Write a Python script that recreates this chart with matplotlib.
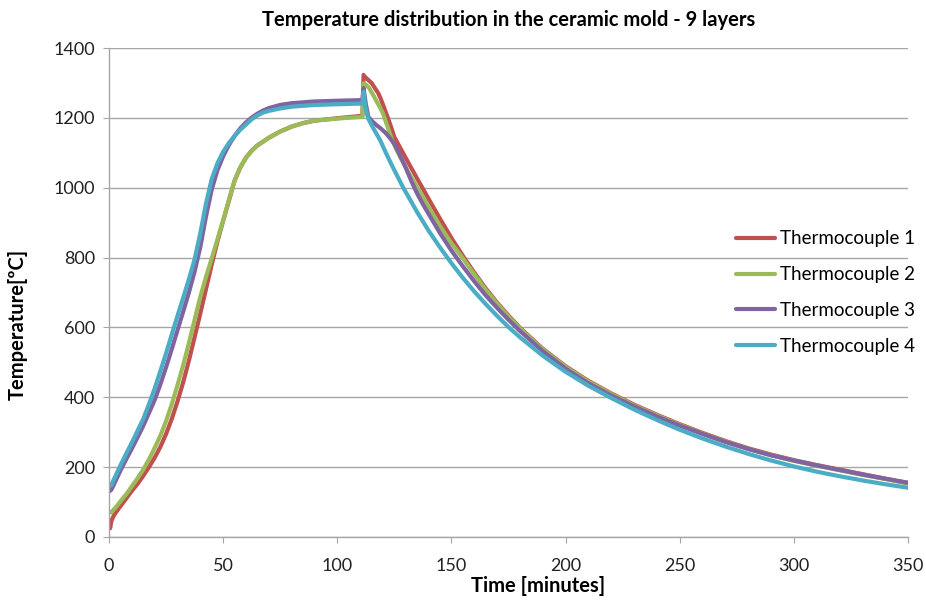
import matplotlib
matplotlib.use("Agg")
import matplotlib.pyplot as plt

# Time [minutes] and temperatures [ºC]
t1 = [0, 0.5, 1, 2, 3, 5, 7.5, 10, 12.5, 15, 17.5, 20, 22.5, 25, 27.5, 30, 32.5, 35, 37.5, 40, 42.5,
      45, 47.5, 50, 52.5, 55, 57.5, 60, 62.5, 65, 67.5, 70, 75, 80, 85, 90, 100, 111,
      111.5, 112, 113, 114, 115, 116, 117, 118, 119, 120, 121, 122, 123.5, 125, 130, 135, 140, 145,
      150, 155, 160, 165, 170, 175, 180, 190, 200, 210, 220, 230, 240, 250, 260, 270, 280, 290, 300,
      310, 320, 330, 340, 350]
tc1 = [50, 25, 45, 60, 70, 88, 110, 132, 152, 175, 200, 227, 258, 295, 338, 388, 443, 505, 572, 640,
       710, 780, 846, 905, 962, 1020, 1058, 1086, 1106, 1121, 1132, 1143, 1161, 1175, 1185, 1192, 1199,
       1206, 1323, 1318, 1312, 1306, 1300, 1290, 1280, 1270, 1255, 1238, 1220, 1203, 1175, 1145, 1085,
       1026, 968, 911, 856, 805, 757, 712, 671, 634, 599, 539, 489, 447, 411, 379, 350, 323, 298, 275,
       254, 236, 220, 206, 193, 180, 167, 155]

t2 = [0, 1, 2, 3, 5, 7.5, 10, 12.5, 15, 17.5, 20, 22.5, 25, 27.5, 30, 32.5, 35, 37.5, 40, 42.5, 45,
      47.5, 50, 52.5, 55, 57.5, 60, 62.5, 65, 67.5, 70, 75, 80, 85, 90, 100, 111,
      111.5, 112.5, 114, 115.5, 117, 118.5, 120, 122, 124, 126, 128, 130, 132.5, 135, 137.5, 140,
      145, 150, 155, 160, 165, 170, 175, 180, 190, 200, 210, 220, 230, 240, 250, 260, 270, 280, 290,
      300, 310, 320, 330, 340, 350]
tc2 = [72, 70, 78, 85, 102, 122, 145, 168, 193, 222, 255, 290, 332, 380, 435, 492, 555, 622, 688, 745,
       798, 852, 907, 965, 1020, 1058, 1086, 1106, 1121, 1132, 1143, 1161, 1175, 1185, 1192, 1198, 1203,
       1299, 1295, 1285, 1268, 1250, 1232, 1213, 1175, 1137, 1108, 1082, 1058, 1029, 1001, 973, 945,
       890, 841, 798, 752, 708, 668, 631, 597, 537, 487, 445, 409, 377, 348, 321, 296, 273, 252, 234,
       218, 204, 191, 178, 166, 153]

t3 = [0, 1, 2, 5, 7.5, 10, 12.5, 15, 17.5, 20, 22.5, 25, 27.5, 30, 32.5, 35, 37.5, 40, 42.5, 45,
      47.5, 50, 52.5, 55, 57.5, 60, 62.5, 65, 67.5, 70, 75, 80, 90, 100, 111,
      111.5, 112.5, 113.6, 115, 117, 119, 121, 123, 125, 127.5, 130, 132.5, 135, 137.5, 140, 145, 150,
      155, 160, 165, 170, 175, 180, 190, 200, 210, 220, 230, 240, 250, 260, 270, 280, 290, 300,
      310, 320, 330, 340, 350]
tc3 = [130, 135, 148, 190, 222, 253, 285, 318, 355, 392, 437, 486, 538, 592, 645, 700, 760, 830, 918,
       995, 1050, 1090, 1122, 1148, 1170, 1187, 1201, 1212, 1221, 1228, 1237, 1242, 1247, 1249, 1251,
       1285, 1240, 1203, 1192, 1180, 1170, 1158, 1143, 1125, 1093, 1057, 1018, 983, 953, 925, 870, 820,
       775, 732, 692, 656, 622, 590, 532, 482, 440, 405, 374, 345, 319, 295, 272, 252, 234, 219,
       205, 192, 179, 167, 155]

t4 = [0, 1, 2, 5, 7.5, 10, 12.5, 15, 17.5, 20, 22.5, 25, 27.5, 30, 32.5, 35, 37.5, 40, 42.5, 45,
      47.5, 50, 52.5, 55, 57.5, 60, 62.5, 65, 67.5, 70, 75, 80, 90, 100, 111,
      111.5, 112.3, 113.5, 115.8, 118.7, 122, 125, 128.9, 135, 140, 145, 150, 155, 160, 165, 170,
      175, 180, 190, 200, 210, 220, 230, 240, 250, 260, 270, 280, 290, 300, 310, 320, 330, 340, 350]
tc4 = [150, 148, 163, 205, 238, 270, 304, 338, 380, 425, 475, 526, 580, 633, 685, 738, 795, 870, 955,
       1025, 1070, 1103, 1128, 1148, 1166, 1181, 1196, 1207, 1215, 1220, 1227, 1232, 1237, 1239, 1241,
       1275, 1230, 1199, 1170, 1137, 1090, 1050, 1000, 930, 877, 829, 784, 742, 703, 667, 633,
       601, 572, 519, 473, 433, 398, 365, 335, 307, 282, 259, 238, 219, 202, 187, 174, 162, 151, 141]

series = [("Thermocouple 1", t1, tc1, "#C0504D"),
          ("Thermocouple 2", t2, tc2, "#9BBB59"),
          ("Thermocouple 3", t3, tc3, "#8064A2"),
          ("Thermocouple 4", t4, tc4, "#4BACC6")]

x_ticks = [0, 50, 100, 150, 200, 250, 300, 350]
y_ticks = [0, 200, 400, 600, 800, 1000, 1200, 1400]

plt.rcParams['font.family'] = ['Lato', 'DejaVu Sans']

fig = plt.figure(figsize=(9.26, 6.01), dpi=100)
ax = fig.add_axes([0.1177, 0.1065, 0.8629, 0.8136])

for name, t, v, c in series:
    ax.plot(t, v, color=c, lw=3.0, label=name, solid_joinstyle='round', solid_capstyle='round')

ax.set_xlim(0, 350)
ax.set_ylim(0, 1400)
ax.set_xticks(x_ticks)
ax.set_yticks(y_ticks)
ax.yaxis.grid(True, color='#A6A6A6', lw=1)
ax.set_axisbelow(True)
for s in ['top', 'right']:
    ax.spines[s].set_visible(False)
for s in ['left', 'bottom']:
    ax.spines[s].set_color('#A6A6A6')
    ax.spines[s].set_linewidth(1)
ax.tick_params(axis='both', colors='#A6A6A6', labelcolor='#222222', labelsize=13, length=4)
ax.tick_params(axis='y', pad=6)
ax.tick_params(axis='x', pad=11)

ax.set_title("Temperature distribution in the ceramic mold - 9 layers",
             fontsize=14.5, fontweight='bold', pad=16)
ax.set_xlabel("Time [minutes]", fontsize=14.5, fontweight='bold')
ax.set_ylabel("Temperature[ºC]", fontsize=14.5, fontweight='bold')
ax.xaxis.set_label_coords(0.537, -0.080)
ax.yaxis.set_label_coords(-0.102, 0.434)

leg = ax.legend(loc='center left', bbox_to_anchor=(0.763, 0.50), frameon=False,
                fontsize=13.5, handlelength=2.1, handletextpad=0.25, labelspacing=1.0)

fig.savefig("out.png", dpi=100)
